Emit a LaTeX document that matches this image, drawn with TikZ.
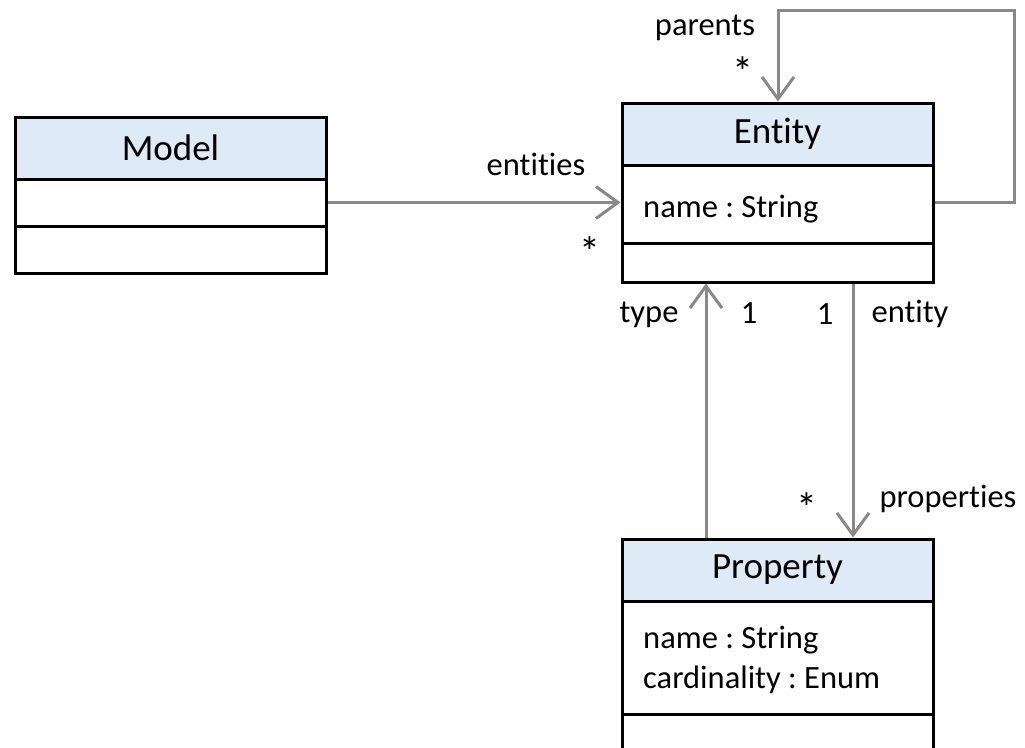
\documentclass[tikz,border=0pt]{standalone}
\usepackage{fontspec}
\setmainfont[RawFeature={-liga;-dlig}]{Carlito}
\frenchspacing
\usetikzlibrary{arrows.meta,calc}
\definecolor{headblue}{RGB}{222,234,246}
\definecolor{linkgray}{RGB}{136,136,136}
\tikzset{
  classhead/.style={draw=black, line width=3pt, fill=headblue, minimum width=311pt,
    inner sep=0pt, font=\fontsize{37}{40}\selectfont},
  classpart/.style={draw=black, line width=3pt, fill=white, minimum width=311pt, inner sep=0pt},
  attr/.style={anchor=base west, inner sep=0pt, font=\fontsize{32.5}{40}\selectfont},
  lbl/.style={inner sep=0pt, font=\fontsize{32.5}{40}\selectfont},
  star/.style={inner sep=0pt, font=\fontsize{42}{44}\selectfont},
  link/.style={draw=linkgray, line width=3pt,
    -{Straight Barb[length=22pt, width=32pt, line width=3pt]}},
}
\begin{document}
\begin{tikzpicture}[x=1pt, y=-1pt]
\useasboundingbox (0,0) rectangle (1025,747);
\clip (0,0) rectangle (1025,747);

% Model class
\node[classhead, minimum height=62pt] (modH) at (170.5,148) {Model};
\node[classpart, minimum height=47pt] (modA) at (170.5,202.5) {};
\node[classpart, minimum height=47pt] (modO) at (170.5,249.5) {};

% Entity class
\node[classhead, minimum height=62pt] (entH) at (777.5,134) {Entity};
\node[classpart, minimum height=78pt] (entA) at (777.5,204) {};
\node[classpart, minimum height=39pt] (entO) at (777.5,262.5) {};
\node[attr] (entN) at (643,217) {name : String};

% Property class
\node[classhead, minimum height=62pt] (propH) at (777.5,570) {Property};
\node[classpart, minimum height=113pt] (propA) at (777.5,657.5) {};
\node[classpart, minimum height=70pt] (propO) at (777.5,749) {};
\node[attr] (propN) at (643,648) {name : String};
\node[attr] (propC) at (643,688) {cardinality : Enum};

% Connector columns and loop corners
\coordinate (typeX) at (706,0);
\coordinate (entX) at (853,0);
\coordinate (loopR) at (1014,10);
\coordinate (loopL) at (778,10);

% Model -> Entity
\draw[link] (modA.east) -- (modA.east -| entA.west);
% Entity -> Entity (parents)
\draw[link] (entA.east |- modA.east) -| (loopR) -- (loopL) -- (loopL |- entH.north);
% Property -> Entity (type)
\draw[link] (typeX |- propH.north) -- (typeX |- entO.south);
% Entity -> Property (properties)
\draw[link] (entX |- entO.south) -- (entX |- propH.north);

% Association labels
\node[lbl, anchor=base] (lEntities) at (536,175) {entities};
\node[star] (sEntities) at (590,252) {*};
\node[lbl, anchor=base] (lParents) at (705,35) {parents};
\node[star] (sParents) at (743,72) {*};
\node[lbl, anchor=base] (lType) at (649,322) {type};
\node[lbl] (oType) at (749,313) {1};
\node[lbl] (oEntity) at (825,314) {1};
\node[lbl, anchor=base] (lEntity) at (910,322) {entity};
\node[star] (sProps) at (807,508) {*};
\node[lbl, anchor=base] (lProps) at (948,507) {properties};
\end{tikzpicture}
\end{document}
